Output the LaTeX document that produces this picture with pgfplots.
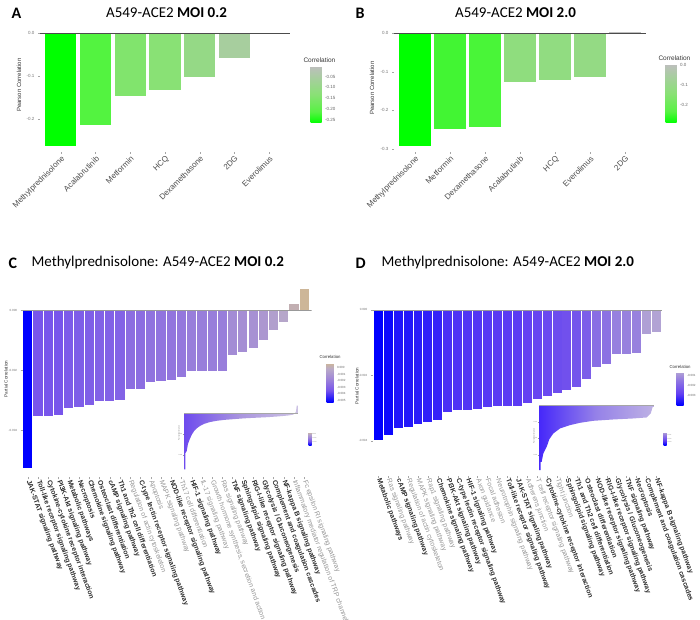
\documentclass[border=0pt]{standalone}
\usepackage{fontspec}
\setmainfont{Liberation Sans}
\newfontfamily\carlito{Carlito}
\usepackage{pgfplots}
\pgfplotsset{compat=1.18}

\definecolor{a1}{RGB}{0,255,0}
\definecolor{a2}{RGB}{83,243,64}
\definecolor{a3}{RGB}{129,228,109}
\definecolor{a4}{RGB}{137,225,117}
\definecolor{a5}{RGB}{149,217,134}
\definecolor{a6}{RGB}{167,206,158}
\definecolor{a7}{RGB}{190,190,190}
\definecolor{b1}{RGB}{0,255,0}
\definecolor{b2}{RGB}{66,245,51}
\definecolor{b3}{RGB}{73,245,56}
\definecolor{b4}{RGB}{143,221,126}
\definecolor{b5}{RGB}{145,220,129}
\definecolor{b6}{RGB}{148,218,132}
\definecolor{b7}{RGB}{190,190,190}
\definecolor{cC0}{RGB}{0,0,255}
\definecolor{cC1}{RGB}{120,85,235}
\definecolor{cC2}{RGB}{160,135,215}
\definecolor{cC3}{RGB}{185,170,200}
\definecolor{cC4}{RGB}{205,182,152}
\definecolor{dD0}{RGB}{0,0,255}
\definecolor{dD1}{RGB}{100,65,242}
\definecolor{dD2}{RGB}{145,120,225}
\definecolor{dD3}{RGB}{178,163,212}
\definecolor{lbdark}{RGB}{45,45,45}
\definecolor{lbgray}{RGB}{150,150,150}
\newcommand{\PB}[1]{\textcolor{lbdark}{\bfseries #1}}
\newcommand{\PG}[1]{\textcolor{lbgray}{#1}}
\newcommand{\BR}[3]{\addplot[ybar,bar width=0.9,bar shift=0pt,draw=none,fill=#3] coordinates {(#1,#2)};}

\pgfplotsset{
  colormap={cmA}{rgb255(0cm)=(0,255,0) rgb255(2cm)=(88,242,68) rgb255(5cm)=(137,225,117) rgb255(8cm)=(168,205,160) rgb255(10cm)=(190,190,190)},
  colormap={cmC}{rgb255(0cm)=(0,0,255) rgb255(3cm)=(120,85,235) rgb255(6cm)=(160,135,215) rgb255(8.5cm)=(185,170,200) rgb255(10cm)=(205,182,152)},
  colormap={cmD}{rgb255(0cm)=(0,0,255) rgb255(3.5cm)=(100,65,242) rgb255(7.5cm)=(145,120,225) rgb255(10cm)=(178,163,212)},
  basepanel/.style={
    scale only axis, anchor=south west,
    axis line style={draw=none},
    xtick pos=left, ytick pos=left, tick align=outside,
    major tick length=2pt,
    tick style={black!35, line width=0.3pt},
    scaled y ticks=false,
    colorbar,
  },
  cbar/.style={
    scale only axis, anchor=south west,
    axis line style={draw=none},
    major tick length=0pt,
    scaled y ticks=false,
    ytick style={draw=none},
  },
}

\begin{document}
\begin{tikzpicture}
\useasboundingbox (0pt,0pt) rectangle (700pt,619pt);

% ---------------- Panel A ----------------
\begin{axis}[basepanel, at={(40pt,467.3pt)}, width=250pt, height=124.3pt,
  xmin=0.4, xmax=7.6, ymin=-0.276, ymax=0.013,
  xtick={1,...,7},
  xticklabels={Methylprednisolone,Acalabrutinib,Metformin,HCQ,Dexamethasone,2DG,Everolimus},
  xticklabel style={rotate=45, anchor=north east, font=\fontsize{8}{9}\selectfont, text=black!70, inner sep=1pt},
  ytick={-0.2,-0.1,0}, yticklabels={-0.2,-0.1,0.0},
  yticklabel style={font=\fontsize{4.5}{5}\selectfont, text=black!55},
  colormap name=cmA, point meta min=-0.263, point meta max=-0.002,
  colorbar style={cbar, at={(302pt,496pt)}, width=11pt, height=57pt,
    ytick={-0.25,-0.2,-0.15,-0.1,-0.05}, yticklabels={-0.25,-0.20,-0.15,-0.10,-0.05},
    yticklabel style={font=\fontsize{4.5}{5}\selectfont, text=black!60}},
]
\BR{1}{-0.263}{a1}
\BR{2}{-0.214}{a2}
\BR{3}{-0.146}{a3}
\BR{4}{-0.133}{a4}
\BR{5}{-0.102}{a5}
\BR{6}{-0.057}{a6}
\BR{7}{-0.002}{a7}
\draw[black!70, line width=0.6pt] (axis cs:0.4,0) -- (axis cs:7.6,0);
\end{axis}

% ---------------- Panel B ----------------
\begin{axis}[basepanel, at={(394pt,467.2pt)}, width=252pt, height=125.8pt,
  xmin=0.4, xmax=7.6, ymin=-0.307, ymax=0.018,
  xtick={1,...,7},
  xticklabels={Methylprednisolone,Metformin,Dexamethasone,Acalabrutinib,HCQ,Everolimus,2DG},
  xticklabel style={rotate=45, anchor=north east, font=\fontsize{8}{9}\selectfont, text=black!70, inner sep=1pt},
  ytick={-0.3,-0.2,-0.1,0}, yticklabels={-0.3,-0.2,-0.1,0.0},
  yticklabel style={font=\fontsize{4.5}{5}\selectfont, text=black!55},
  colormap name=cmA, point meta min=-0.292, point meta max=0.003,
  colorbar style={cbar, at={(657pt,496pt)}, width=11pt, height=59pt,
    ytick={-0.2,-0.1,0}, yticklabels={-0.2,-0.1,0.0},
    yticklabel style={font=\fontsize{4.5}{5}\selectfont, text=black!60}},
]
\BR{1}{-0.292}{b1}
\BR{2}{-0.248}{b2}
\BR{3}{-0.243}{b3}
\BR{4}{-0.126}{b4}
\BR{5}{-0.121}{b5}
\BR{6}{-0.113}{b6}
\BR{7}{0.003}{b7}
\draw[black!70, line width=0.6pt] (axis cs:0.4,0) -- (axis cs:7.6,0);
\end{axis}

% ---------------- Panel C ----------------
\begin{scope}
\clip (0pt,0pt) rectangle (348pt,619pt);
\begin{axis}[basepanel, at={(22.7pt,141.6pt)}, width=288.8pt, height=197.1pt,
  xmin=0.5, xmax=28.7, ymin=-0.00558, ymax=0.00099,
  xtick={1,...,28},
  xticklabels={\PB{JAK-STAT signaling pathway},\PB{Toll-like receptor signaling pathway},\PB{Cytokine-cytokine receptor interaction},\PB{PI3K-Akt signaling pathway},\PB{Metabolic pathways},\PB{Necroptosis},\PB{Chemokine signaling pathway},\PB{Osteoclast differentiation},\PB{cAMP signaling pathway},\PB{Th1 and Th2 cell differentiation},\PG{Regulation of actin cytoskeleton},\PB{C-type lectin receptor signaling pathway},\PG{Apoptosis},\PG{MAPK signaling pathway},\PB{NOD-like receptor signaling pathway},\PG{Th17 cell differentiation},\PB{HIF-1 signaling pathway},\PG{IL-17 signaling pathway},\PG{Growth hormone synthesis, secretion and action},\PG{Ras signaling pathway},\PB{TNF signaling pathway},\PB{Sphingolipid signaling pathway},\PB{RIG-I-like receptor signaling pathway},\PB{Glycolysis / Gluconeogenesis},\PB{Complement and coagulation cascades},\PB{NF-kappa B signaling pathway},\PG{Inflammatory mediator regulation of TRP channels},\PG{Fc epsilon RI signaling pathway}},
  xticklabel style={rotate=-70, anchor=west, font=\fontsize{6.9}{8}\selectfont, inner sep=1pt},
  ytick={-0.004,-0.002,0}, yticklabels={-0.004,-0.002,0.000},
  yticklabel style={font=\fontsize{3}{3.5}\selectfont, text=black!55},
  colormap name=cmC, point meta min=-0.00528, point meta max=0.00069,
  colorbar style={cbar, at={(318pt,217pt)}, width=7pt, height=39pt,
    ytick={-0.005,-0.004,-0.003,-0.002,-0.001,0}, yticklabels={-0.005,-0.004,-0.003,-0.002,-0.001,0.000},
    yticklabel style={font=\fontsize{3}{3.5}\selectfont, text=black!60}},
]
\BR{1}{-0.00528}{cC0}
\BR{2}{-0.00353}{cC1}
\BR{3}{-0.00353}{cC1}
\BR{4}{-0.00350}{cC1}
\BR{5}{-0.00327}{cC1!88!cC2}
\BR{6}{-0.00322}{cC1!85!cC2}
\BR{7}{-0.00317}{cC1!82!cC2}
\BR{8}{-0.00304}{cC1!75!cC2}
\BR{9}{-0.00304}{cC1!75!cC2}
\BR{10}{-0.00300}{cC1!73!cC2}
\BR{11}{-0.00262}{cC1!51!cC2}
\BR{12}{-0.00262}{cC1!51!cC2}
\BR{13}{-0.00240}{cC1!39!cC2}
\BR{14}{-0.00237}{cC1!38!cC2}
\BR{15}{-0.00233}{cC1!35!cC2}
\BR{16}{-0.00223}{cC1!30!cC2}
\BR{17}{-0.00203}{cC1!19!cC2}
\BR{18}{-0.00203}{cC1!19!cC2}
\BR{19}{-0.00203}{cC1!19!cC2}
\BR{20}{-0.00203}{cC1!19!cC2}
\BR{21}{-0.00150}{cC2!87!cC3}
\BR{22}{-0.00141}{cC2!81!cC3}
\BR{23}{-0.00128}{cC2!72!cC3}
\BR{24}{-0.00100}{cC2!53!cC3}
\BR{25}{-0.00067}{cC2!31!cC3}
\BR{26}{-0.00039}{cC2!12!cC3}
\BR{27}{0.00020}{cC3!55!cC4}
\BR{28}{0.00069}{cC4}
\draw[black!40, line width=0.5pt] (axis cs:0.5,0) -- (axis cs:28.7,0);
\end{axis}
\end{scope}

% inset C
\begin{axis}[scale only axis, anchor=south west, at={(184pt,149pt)}, width=114pt, height=66pt,
  xmin=0, xmax=114, ymin=-0.0054, ymax=0.0009,
  axis line style={draw=none}, xtick=\empty,
  ytick={-0.004,-0.002}, yticklabels={-0.004,-0.002}, scaled y ticks=false,
  ytick pos=left, tick align=outside, major tick length=1pt,
  tick style={black!40, line width=0.2pt},
  yticklabel style={font=\fontsize{1.5}{2}\selectfont, text=black!50, inner sep=0.5pt},
  colorbar, colormap name=cmC, point meta min=-0.00533, point meta max=0.00075,
  colorbar style={cbar, at={(300pt,174pt)}, width=3pt, height=13pt,
    ytick={-0.004,-0.002,0}, yticklabels={-0.004,-0.002,0.000},
    yticklabel style={font=\fontsize{1.5}{2}\selectfont, text=black!50, inner sep=0.5pt}},
]
\addplot[draw=none, left color={rgb,255:red,110;green,75;blue,238}, right color={rgb,255:red,205;green,195;blue,228}, middle color={rgb,255:red,170;green,150;blue,222}] coordinates {
(0,0) (0,-0.00533) (1.3,-0.00533) (1.3,-0.0038) (2.7,-0.0036) (4,-0.0029) (6,-0.0024) (8,-0.0020) (10,-0.0017) (13,-0.0014) (16,-0.0012) (20,-0.0010) (26,-0.00082) (33,-0.00070) (41,-0.00061) (49,-0.00055) (60,-0.00047) (70,-0.00042) (83,-0.00036) (95,-0.00028) (104,-0.00020) (109,-0.00012) (111,0) (112,0.0002) (112.7,0.00075) (114,0.00075) (114,0)};
\draw[black!35, line width=0.3pt] (axis cs:0,0) -- (axis cs:114,0);
\end{axis}

% ---------------- Panel D ----------------
\begin{axis}[basepanel, at={(372.8pt,143pt)}, width=289pt, height=172.6pt,
  xmin=0.45, xmax=29.55, ymin=-0.00507, ymax=0.0002,
  xtick={1,...,29},
  xticklabels={\PB{Metabolic pathways},\PG{Ras signaling pathway},\PB{cAMP signaling pathway},\PG{Regulation of actin cytoskeleton},\PG{MAPK signaling pathway},\PG{Rap1 signaling pathway},\PB{Chemokine signaling pathway},\PB{PI3K-Akt signaling pathway},\PB{C-type lectin receptor signaling pathway},\PB{HIF-1 signaling pathway},\PG{Axon guidance},\PG{Focal adhesion},\PG{Neurotrophin signaling pathway},\PB{Toll-like receptor signaling pathway},\PB{JAK-STAT signaling pathway},\PG{Adherens junction},\PG{T cell receptor signaling pathway},\PB{Cytokine-cytokine receptor interaction},\PG{Tight junction},\PB{Sphingolipid signaling pathway},\PB{Th1 and Th2 cell differentiation},\PB{Osteoclast differentiation},\PB{NOD-like receptor signaling pathway},\PB{RIG-I-like receptor signaling pathway},\PB{Glycolysis / Gluconeogenesis},\PB{TNF signaling pathway},\PB{Necroptosis},\PB{Complement and coagulation cascades},\PB{NF-kappa B signaling pathway}},
  xticklabel style={rotate=-70, anchor=west, font=\fontsize{6.9}{8}\selectfont, inner sep=1pt},
  ytick={-0.004,-0.002,0}, yticklabels={-0.004,-0.002,0.000},
  yticklabel style={font=\fontsize{3}{3.5}\selectfont, text=black!55},
  colormap name=cmD, point meta min=-0.00397, point meta max=-0.00067,
  colorbar style={cbar, at={(668pt,214pt)}, width=7pt, height=33pt,
    ytick={-0.003,-0.002,-0.001}, yticklabels={-0.003,-0.002,-0.001},
    yticklabel style={font=\fontsize{3}{3.5}\selectfont, text=black!60}},
]
\BR{1}{-0.00397}{dD0}
\BR{2}{-0.00382}{dD0!87!dD1}
\BR{3}{-0.00359}{dD0!67!dD1}
\BR{4}{-0.00356}{dD0!65!dD1}
\BR{5}{-0.00347}{dD0!57!dD1}
\BR{6}{-0.00342}{dD0!52!dD1}
\BR{7}{-0.00336}{dD0!47!dD1}
\BR{8}{-0.00312}{dD0!26!dD1}
\BR{9}{-0.00306}{dD0!21!dD1}
\BR{10}{-0.00304}{dD0!19!dD1}
\BR{11}{-0.00301}{dD0!17!dD1}
\BR{12}{-0.00296}{dD0!13!dD1}
\BR{13}{-0.00293}{dD0!10!dD1}
\BR{14}{-0.00292}{dD0!9!dD1}
\BR{15}{-0.00292}{dD0!9!dD1}
\BR{16}{-0.00283}{dD1}
\BR{17}{-0.00272}{dD1!93!dD2}
\BR{18}{-0.00263}{dD1!86!dD2}
\BR{19}{-0.00254}{dD1!79!dD2}
\BR{20}{-0.00245}{dD1!72!dD2}
\BR{21}{-0.00234}{dD1!64!dD2}
\BR{22}{-0.00212}{dD1!47!dD2}
\BR{23}{-0.00173}{dD1!18!dD2}
\BR{24}{-0.00165}{dD1!12!dD2}
\BR{25}{-0.00135}{dD2!82!dD3}
\BR{26}{-0.00133}{dD2!80!dD3}
\BR{27}{-0.00131}{dD2!78!dD3}
\BR{28}{-0.00074}{dD2!8!dD3}
\BR{29}{-0.00067}{dD3}
\draw[black!40, line width=0.5pt] (axis cs:0.45,0) -- (axis cs:29.55,0);
\end{axis}

% inset D
\begin{axis}[scale only axis, anchor=south west, at={(539pt,147.2pt)}, width=115pt, height=70pt,
  xmin=0, xmax=115, ymin=-0.0040, ymax=0.0002,
  axis line style={draw=none}, xtick=\empty,
  ytick={-0.003,-0.002,-0.001}, yticklabels={-0.003,-0.002,-0.001}, scaled y ticks=false,
  ytick pos=left, tick align=outside, major tick length=1pt,
  tick style={black!40, line width=0.2pt},
  yticklabel style={font=\fontsize{1.5}{2}\selectfont, text=black!50, inner sep=0.5pt},
  colorbar, colormap name=cmD, point meta min=-0.0039, point meta max=-0.0001,
  colorbar style={cbar, at={(655pt,174pt)}, width=3pt, height=13pt,
    ytick={-0.003,-0.002,-0.001}, yticklabels={-0.003,-0.002,-0.001},
    yticklabel style={font=\fontsize{1.5}{2}\selectfont, text=black!50, inner sep=0.5pt}},
]
\addplot[draw=none, left color={rgb,255:red,70;green,40;blue,250}, right color={rgb,255:red,190;green,178;blue,228}, middle color={rgb,255:red,150;green,130;blue,232}] coordinates {
(0,0) (0,-0.0039) (1.5,-0.0039) (1.5,-0.0034) (2.7,-0.0034) (4.3,-0.0029) (7.7,-0.0025) (10.3,-0.00205) (14.3,-0.0017) (21,-0.0014) (31,-0.0012) (41,-0.00106) (54.3,-0.00094) (74.3,-0.00086) (94.3,-0.0008) (107.7,-0.00074) (111.7,-0.0005) (113.7,-0.0001) (115,-0.0001) (115,0)};
\draw[black!35, line width=0.3pt] (axis cs:0,0) -- (axis cs:115,0);
\end{axis}

% ---------------- Text ----------------
\node[anchor=west, font=\carlito\bfseries\fontsize{16}{18}\selectfont] at (8pt,606pt) {A};
\node[font=\carlito\fontsize{15}{18}\selectfont] at (166.5pt,606pt) {A549-ACE2 \textbf{MOI 0.2}};
\node[anchor=west, font=\carlito\bfseries\fontsize{16}{18}\selectfont] at (352pt,606pt) {B};
\node[font=\carlito\fontsize{15}{18}\selectfont] at (515.5pt,606pt) {A549-ACE2 \textbf{MOI 2.0}};
\node[anchor=west, font=\carlito\bfseries\fontsize{16}{18}\selectfont] at (5pt,356pt) {C};
\node[anchor=west, font=\carlito\fontsize{15}{18}\selectfont] at (28pt,356pt) {Methylprednisolone: A549-ACE2 \textbf{MOI 0.2}};
\node[anchor=west, font=\carlito\bfseries\fontsize{16}{18}\selectfont] at (352pt,356pt) {D};
\node[anchor=west, font=\carlito\fontsize{15}{18}\selectfont] at (378pt,356pt) {Methylprednisolone: A549-ACE2 \textbf{MOI 2.0}};

\node[rotate=90, font=\fontsize{6}{7}\selectfont, text=black!80] at (19pt,534pt) {Pearson Correlation};
\node[rotate=90, font=\fontsize{6}{7}\selectfont, text=black!80] at (372pt,531pt) {Pearson Correlation};
\node[rotate=90, font=\fontsize{4.6}{5}\selectfont, text=black!80] at (6pt,240pt) {Partial Correlation};
\node[rotate=90, font=\fontsize{4.6}{5}\selectfont, text=black!80] at (357pt,233pt) {Partial Correlation};
\node[rotate=90, font=\fontsize{1.8}{2}\selectfont, text=black!60] at (179pt,186pt) {Partial Correlation};
\node[rotate=90, font=\fontsize{1.8}{2}\selectfont, text=black!60] at (534pt,183pt) {Partial Correlation};

\node[anchor=west, font=\fontsize{6.5}{7}\selectfont, text=black!80] at (300pt,559pt) {Correlation};
\node[anchor=west, font=\fontsize{6.5}{7}\selectfont, text=black!80] at (655pt,561pt) {Correlation};
\node[anchor=west, font=\fontsize{4.3}{5}\selectfont, text=black!80] at (316pt,262pt) {Correlation};
\node[anchor=west, font=\fontsize{4.3}{5}\selectfont, text=black!80] at (666pt,252pt) {Correlation};
\end{tikzpicture}
\end{document}
